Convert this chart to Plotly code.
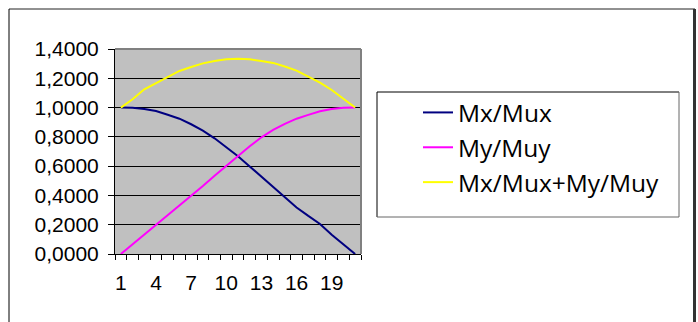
import plotly.graph_objects as go

# Point index along the member
points = list(range(1, 22))

mx_mux = [1.0, 0.999, 0.99, 0.976, 0.951, 0.924, 0.886, 0.843, 0.79, 0.728, 0.667,
          0.598, 0.528, 0.459, 0.389, 0.318, 0.26, 0.205, 0.131, 0.066, 0.0]
my_muy = [0.0, 0.066, 0.131, 0.196, 0.262, 0.328, 0.396, 0.464, 0.535, 0.603, 0.667,
          0.736, 0.797, 0.847, 0.889, 0.924, 0.95, 0.975, 0.99, 0.999, 1.0]
sum_ratio = [1.0, 1.057, 1.125, 1.166, 1.211, 1.25, 1.277, 1.302, 1.318, 1.33, 1.333,
             1.33, 1.318, 1.305, 1.28, 1.252, 1.211, 1.17, 1.12, 1.059, 1.0]

series_names = ["Mx/Mux", "My/Muy", "Mx/Mux+My/Muy"]
series_colors = ["#000080", "#FF00FF", "#FFFF00"]
x_tick_labels = [1, 4, 7, 10, 13, 16, 19]
y_ticks = [0, 0.2, 0.4, 0.6, 0.8, 1.0, 1.2, 1.4]

W, H = 698, 322
L, R, T, B = 115, 361, 49, 254   # plot area in pixels


def px(x):
    return (x - L) / (R - L)


def py(y):
    return (B - y) / (B - T)


fig = go.Figure()
for i, (name, vals, col) in enumerate(zip(series_names, [mx_mux, my_muy, sum_ratio], series_colors)):
    fig.add_trace(go.Scatter(
        x=points, y=vals, mode="lines", name=name,
        line=dict(color=col, width=2),
        legendgroup=f"g{i}",
    ))

axis_font = dict(family="Liberation Sans, Arial", size=21, color="#000")

fig.update_layout(
    width=W, height=H,
    margin=dict(l=L, r=W - R, t=T, b=H - B, pad=0),
    paper_bgcolor="#FFFFFF",
    plot_bgcolor="#C0C0C0",
    separators=", ",
    showlegend=True,
    legend=dict(
        x=px(418), y=py(90), xanchor="left", yanchor="top",
        bgcolor="rgba(0,0,0,0)", borderwidth=0,
        font=dict(family="Open Sans", size=24.5, color="#000"),
        tracegroupgap=21, traceorder="normal",
    ),
    xaxis=dict(
        range=[0.5, 21.5], showgrid=False, zeroline=False,
        tickmode="array", tickvals=x_tick_labels, ticktext=[str(v) for v in x_tick_labels],
        ticks="", tickfont=axis_font, ticklabelstandoff=10,
        showline=True, linecolor="#000", linewidth=1,
        minor=dict(tickmode="linear", tick0=0.5, dtick=1, ticks="outside",
                   ticklen=5, tickcolor="#000", tickwidth=1, showgrid=False),
    ),
    yaxis=dict(
        range=[0, 1.4], tickmode="array", tickvals=y_ticks, tickformat=".4f",
        showgrid=True, gridcolor="#000", gridwidth=1, zeroline=False,
        ticks="outside", ticklen=6, tickcolor="#000", tickwidth=1,
        tickfont=axis_font, ticklabelstandoff=5,
        showline=True, linecolor="#000", linewidth=1,
    ),
    shapes=[
        # plot-area border on the top and right
        dict(type="line", xref="paper", yref="paper", x0=0, x1=1, y0=1, y1=1,
             line=dict(color="#808080", width=2)),
        dict(type="line", xref="paper", yref="paper", x0=1, x1=1, y0=0, y1=1,
             line=dict(color="#808080", width=2)),
        # chart frame
        dict(type="line", xref="paper", yref="paper", x0=px(9), x1=px(695), y0=py(9), y1=py(9),
             line=dict(color="#222", width=1)),
        dict(type="line", xref="paper", yref="paper", x0=px(9), x1=px(9), y0=py(9), y1=py(330),
             line=dict(color="#000", width=1)),
        dict(type="line", xref="paper", yref="paper", x0=px(694.5), x1=px(694.5), y0=py(9), y1=py(330),
             line=dict(color="#333", width=3)),
        # legend box
        dict(type="line", xref="paper", yref="paper", x0=px(377), x1=px(679), y0=py(92), y1=py(92),
             line=dict(color="#000", width=1)),
        dict(type="line", xref="paper", yref="paper", x0=px(377), x1=px(377), y0=py(92), y1=py(217),
             line=dict(color="#000", width=1)),
        dict(type="line", xref="paper", yref="paper", x0=px(679), x1=px(679), y0=py(92), y1=py(217),
             line=dict(color="#666", width=1)),
        dict(type="line", xref="paper", yref="paper", x0=px(377), x1=px(679), y0=py(217), y1=py(217),
             line=dict(color="#666", width=1)),
    ],
)

fig.write_html("out.html")
